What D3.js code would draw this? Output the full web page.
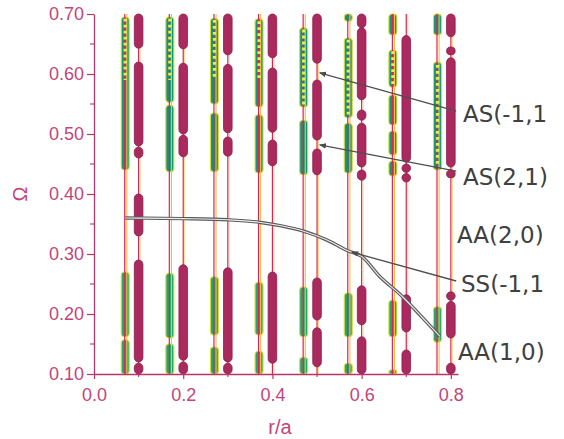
<!DOCTYPE html>
<html>
<head>
<meta charset="utf-8">
<script src="https://cdn.jsdelivr.net/npm/d3@7"></script>
<style>
  body { margin: 0; background: #fff; }
  svg { display: block; }
</style>
</head>
<body>
<svg id="chart"></svg>
<script>
// Columns (r/a) for the two families of bands
const greenCols = [0.07, 0.17, 0.27, 0.37, 0.47, 0.57, 0.67, 0.77];
const maroonCols = [0.1, 0.2, 0.3, 0.4, 0.5, 0.6, 0.7, 0.8];

// green bands: [r/a, omegaLow, omegaHigh]
const greenBands = [
  [0.07, 0.440, 0.695], [0.07, 0.162, 0.270], [0.07, 0.100, 0.157],
  [0.17, 0.553, 0.695], [0.17, 0.437, 0.548], [0.17, 0.160, 0.268], [0.17, 0.100, 0.150],
  [0.27, 0.550, 0.693], [0.27, 0.437, 0.535], [0.27, 0.165, 0.262], [0.27, 0.100, 0.145],
  [0.37, 0.545, 0.692], [0.37, 0.435, 0.532], [0.37, 0.165, 0.253], [0.37, 0.100, 0.138],
  [0.47, 0.545, 0.677], [0.47, 0.432, 0.523], [0.47, 0.162, 0.245], [0.47, 0.100, 0.128],
  [0.57, 0.688, 0.700], [0.57, 0.527, 0.660], [0.57, 0.435, 0.518], [0.57, 0.162, 0.235], [0.57, 0.100, 0.118],
  [0.67, 0.665, 0.700], [0.67, 0.578, 0.640], [0.67, 0.515, 0.565], [0.67, 0.465, 0.505], [0.67, 0.430, 0.455],
  [0.67, 0.162, 0.223], [0.67, 0.100, 0.107],
  [0.77, 0.665, 0.700], [0.77, 0.440, 0.620], [0.77, 0.153, 0.212]
];

// yellow dotted cores inside the green bands: [r/a, omegaLow, omegaHigh]
const greenDotted = [
  [0.07, 0.590, 0.692], [0.17, 0.590, 0.692], [0.27, 0.592, 0.690], [0.37, 0.593, 0.688],
  [0.47, 0.548, 0.674], [0.57, 0.530, 0.657], [0.67, 0.580, 0.638], [0.77, 0.445, 0.615]
];

// maroon bands: [r/a, omegaLow, omegaHigh]
const maroonBands = [
  [0.1, 0.643, 0.700], [0.1, 0.480, 0.620], [0.1, 0.460, 0.478], [0.1, 0.330, 0.400],
  [0.1, 0.120, 0.290], [0.1, 0.100, 0.118],
  [0.2, 0.642, 0.700], [0.2, 0.500, 0.618], [0.2, 0.462, 0.498], [0.2, 0.123, 0.282], [0.2, 0.100, 0.120],
  [0.3, 0.632, 0.700], [0.3, 0.502, 0.616], [0.3, 0.463, 0.495], [0.3, 0.120, 0.277], [0.3, 0.100, 0.118],
  [0.4, 0.627, 0.700], [0.4, 0.503, 0.610], [0.4, 0.447, 0.490], [0.4, 0.118, 0.270],
  [0.5, 0.618, 0.700], [0.5, 0.490, 0.590], [0.5, 0.432, 0.475], [0.5, 0.190, 0.260], [0.5, 0.112, 0.177],
  [0.6, 0.677, 0.700], [0.6, 0.557, 0.677], [0.6, 0.523, 0.540], [0.6, 0.445, 0.518], [0.6, 0.423, 0.440],
  [0.6, 0.182, 0.247], [0.6, 0.100, 0.162],
  [0.7, 0.453, 0.664], [0.7, 0.436, 0.450], [0.7, 0.420, 0.434], [0.7, 0.170, 0.232], [0.7, 0.100, 0.140],
  [0.8, 0.662, 0.700], [0.8, 0.632, 0.645], [0.8, 0.445, 0.627], [0.8, 0.427, 0.440],
  [0.8, 0.223, 0.237], [0.8, 0.160, 0.221], [0.8, 0.100, 0.118]
];

// gray curve
const curveR     = [0.07, 0.20, 0.30, 0.37, 0.42, 0.47, 0.52, 0.57, 0.60, 0.64, 0.69, 0.735, 0.775];
const curveOmega = [0.360, 0.359, 0.357, 0.353, 0.347, 0.338, 0.324, 0.305, 0.296, 0.263, 0.230, 0.195, 0.163];

// axis ticks
const yTicks = [0.10, 0.20, 0.30, 0.40, 0.50, 0.60, 0.70];
const yMinor = [0.15, 0.25, 0.35, 0.45, 0.55, 0.65];
const xTicks = [0.0, 0.2, 0.4, 0.6, 0.8];
const xMinor = [0.1, 0.3, 0.5, 0.7];

// mode labels on the right
const modeLabels = ["AS(-1,1", "AS(2,1)", "AA(2,0)", "SS(-1,1", "AA(1,0)"];

const W = 564, H = 439;
const axisColor = "#b8356c";
const labelColor = "#c2457a";

const svg = d3.select("#chart")
    .attr("width", W)
    .attr("height", H);

const x = d3.scaleLinear().domain([0, 0.816]).range([94, 458]);
const y = d3.scaleLinear().domain([0.1, 0.7]).range([374, 14]);

// green bands
svg.append("g").selectAll("rect")
    .data(greenBands)
  .enter().append("rect")
    .attr("x", d => x(d[0]) - 4)
    .attr("width", 8)
    .attr("y", d => y(d[2]))
    .attr("height", d => y(d[1]) - y(d[2]))
    .attr("rx", 3.5)
    .attr("fill", d => d[2] > 0.4 ? "#11977a" : "#22a86e")
    .attr("stroke", "#d9dc3c")
    .attr("stroke-width", 1.1);

// thin red + yellow lines through every column
const lines = svg.append("g");
lines.selectAll(".red-g")
    .data(greenCols)
  .enter().append("line")
    .attr("x1", d => x(d) - 0.5).attr("x2", d => x(d) - 0.5)
    .attr("y1", y(0.1)).attr("y2", y(0.7))
    .attr("stroke", "#d8245a").attr("stroke-width", 1.2);
lines.selectAll(".yel-g")
    .data(greenCols)
  .enter().append("line")
    .attr("x1", d => x(d) + 1.6).attr("x2", d => x(d) + 1.6)
    .attr("y1", y(0.1)).attr("y2", y(0.7))
    .attr("stroke", "#f0bf3e").attr("stroke-width", 1.1);
lines.selectAll(".red-m")
    .data(maroonCols)
  .enter().append("line")
    .attr("x1", d => x(d)).attr("x2", d => x(d))
    .attr("y1", y(0.1)).attr("y2", y(0.7))
    .attr("stroke", "#d8245a").attr("stroke-width", 1.2);
lines.selectAll(".yel-m")
    .data(maroonCols)
  .enter().append("line")
    .attr("x1", d => x(d) + 1.5).attr("x2", d => x(d) + 1.5)
    .attr("y1", y(0.1)).attr("y2", y(0.7))
    .attr("stroke", "#f3d36a").attr("stroke-width", 0.8);

// dotted yellow cores
svg.append("g").selectAll("line")
    .data(greenDotted)
  .enter().append("line")
    .attr("x1", d => x(d[0])).attr("x2", d => x(d[0]))
    .attr("y1", d => y(d[2])).attr("y2", d => y(d[1]))
    .attr("stroke", "#ecea55")
    .attr("stroke-width", 3.2)
    .attr("stroke-dasharray", "2.8 3.2");

// maroon bands
svg.append("g").selectAll("rect")
    .data(maroonBands)
  .enter().append("rect")
    .attr("x", d => x(d[0]) - 4.3)
    .attr("width", 8.6)
    .attr("y", d => y(d[2]))
    .attr("height", d => y(d[1]) - y(d[2]))
    .attr("rx", 4.3)
    .attr("fill", "#ab2a5e")
    .attr("stroke", "#8a1d4a")
    .attr("stroke-width", 0.8);

// gray double-line curve
const curveLine = d3.line()
    .x(d => x(d[0]))
    .y(d => y(d[1]))
    .curve(d3.curveMonotoneX);
const curvePts = curveR.map((r, i) => [r, curveOmega[i]]);
svg.append("path")
    .attr("d", curveLine(curvePts))
    .attr("fill", "none")
    .attr("stroke", "#5c5c5c")
    .attr("stroke-width", 3.4);
svg.append("path")
    .attr("d", curveLine(curvePts))
    .attr("fill", "none")
    .attr("stroke", "#ececec")
    .attr("stroke-width", 1.1);

// arrow leaders
svg.append("defs").append("marker")
    .attr("id", "arrow")
    .attr("viewBox", "0 0 10 10")
    .attr("refX", 9).attr("refY", 5)
    .attr("markerWidth", 7).attr("markerHeight", 7)
    .attr("markerUnits", "userSpaceOnUse")
    .attr("orient", "auto")
  .append("path")
    .attr("d", "M0,1 L10,5 L0,9 Z")
    .attr("fill", "#4a4a4a");

const leaders = [
  [[0.812, 0.538], [0.506, 0.602]],
  [[0.812, 0.438], [0.506, 0.482]],
  [[0.812, 0.255], [0.578, 0.303]]
];
svg.append("g").selectAll("line")
    .data(leaders)
  .enter().append("line")
    .attr("x1", d => x(d[0][0])).attr("y1", d => y(d[0][1]))
    .attr("x2", d => x(d[1][0])).attr("y2", d => y(d[1][1]))
    .attr("stroke", "#4f4f4f")
    .attr("stroke-width", 1.3)
    .attr("marker-end", "url(#arrow)");

// axes
const yAxis = d3.axisLeft(y)
    .tickValues(yTicks)
    .tickFormat(d3.format(".2f"))
    .tickSize(7)
    .tickSizeOuter(0)
    .tickPadding(3);
const yAxisGroup = svg.append("g")
    .attr("transform", `translate(${x(0)},0)`)
    .call(yAxis);

const xAxis = d3.axisBottom(x)
    .tickValues(xTicks)
    .tickFormat(d3.format(".1f"))
    .tickSize(5)
    .tickSizeOuter(0)
    .tickPadding(9);
const xAxisGroup = svg.append("g")
    .attr("transform", `translate(0,${y(0.1)})`)
    .call(xAxis);

[yAxisGroup, xAxisGroup].forEach(g => {
  g.select(".domain").attr("stroke", axisColor).attr("stroke-width", 1.3);
  g.selectAll(".tick line").attr("stroke", axisColor).attr("stroke-width", 1.2);
  g.selectAll(".tick text")
      .attr("fill", labelColor)
      .style("font-family", "'Liberation Sans', Arial, sans-serif")
      .style("font-size", "18px");
});

// minor ticks
svg.append("g").selectAll("line")
    .data(yMinor)
  .enter().append("line")
    .attr("x1", x(0) - 4).attr("x2", x(0))
    .attr("y1", d => y(d)).attr("y2", d => y(d))
    .attr("stroke", axisColor).attr("stroke-width", 1.1);
svg.append("g").selectAll("line")
    .data(xMinor)
  .enter().append("line")
    .attr("x1", d => x(d)).attr("x2", d => x(d))
    .attr("y1", y(0.1)).attr("y2", y(0.1) + 3)
    .attr("stroke", axisColor).attr("stroke-width", 1.1);

// axis titles
svg.append("text")
    .attr("x", 280).attr("y", 434)
    .attr("text-anchor", "middle")
    .attr("fill", labelColor)
    .style("font-family", "'Liberation Sans', Arial, sans-serif")
    .style("font-size", "20px")
    .text("r/a");

svg.append("text")
    .attr("transform", "translate(27,194) rotate(-90)")
    .attr("text-anchor", "middle")
    .attr("fill", labelColor)
    .style("font-family", "'Liberation Sans', Arial, sans-serif")
    .style("font-size", "20px")
    .text("Ω");

// mode labels
const labelPos = [[463, 122], [463, 185], [457, 243], [461, 292], [458, 360]];
svg.append("g").selectAll("text")
    .data(modeLabels)
  .enter().append("text")
    .attr("x", (d, i) => labelPos[i][0])
    .attr("y", (d, i) => labelPos[i][1])
    .attr("fill", "#404040")
    .style("font-family", "'DejaVu Sans', Verdana, sans-serif")
    .style("font-size", "23px")
    .text(d => d);
</script>
</body>
</html>
